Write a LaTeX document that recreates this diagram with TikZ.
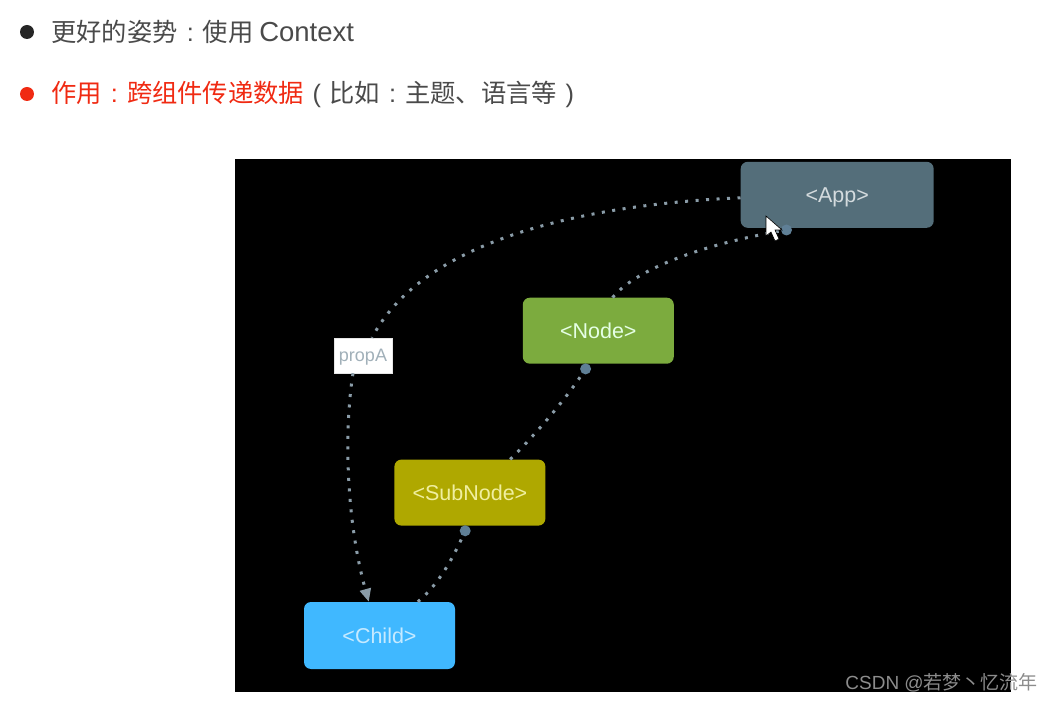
\documentclass[tikz,border=0pt]{standalone}
\usepackage{xcolor}
\usepackage{fontspec}
\setmainfont{Liberation Sans}
\newfontfamily\cjk{Noto Sans CJK SC}
\usetikzlibrary{arrows.meta, positioning, calc}
\definecolor{appgrey}{HTML}{546E7A}
\definecolor{nodegreen}{HTML}{7CAB3E}
\definecolor{subolive}{HTML}{AFA800}
\definecolor{childblue}{HTML}{40B8FF}
\definecolor{linkgrey}{HTML}{8A9CA8}
\definecolor{dotgrey}{HTML}{5F7F96}
\definecolor{inkgrey}{HTML}{4A4A4A}
\definecolor{alertred}{HTML}{F02A12}
\definecolor{subtext}{HTML}{F0EFA0}
\newcommand{\widemark}[1]{\makebox[25.3pt]{\rmfamily #1}}

\begin{document}
\begin{tikzpicture}[
        x=1pt, y=-1pt,
        box/.style={rounded corners=7pt, minimum width=151pt, minimum height=66pt,
                    inner sep=0pt, text height=16pt, text depth=0pt,
                    font=\fontsize{21.5}{26}\selectfont},
        portdot/.style={circle, fill=dotgrey, minimum size=11pt, inner sep=0pt},
        lnk/.style={linkgrey, line width=3pt, dash pattern=on 3pt off 7.5pt},
        arr/.style={lnk, -{Triangle[length=13pt, width=11pt, fill=linkgrey]}},
        line/.style={anchor=west, inner sep=0pt, text=inkgrey, font=\fontsize{25.3}{30}\selectfont},
        bullet/.style={circle, minimum size=14pt, inner sep=0pt}
      ]
        \useasboundingbox (0,0) rectangle (1053,703);
        \node[bullet, fill=black!85] (blacktip) at (27,32) {};
        \node[line] (title) at (51,32) {\cjk 更好的姿势\widemark{:}使用 {\rmfamily\fontsize{27.5}{30}\selectfont Context}};
        \node[bullet, fill=alertred] (redtip) at (27,94) {};
        \node[line] (usage) at (51,94) {\cjk\textcolor{alertred}{作用\widemark{:}跨组件传递数据}\widemark{(}比如\widemark{:}主题、语言等\widemark{)}};
        \node[fill=black, minimum width=776pt, minimum height=533pt, inner sep=0pt] (panel) at (623,425.5) {};

        \node[box, fill=childblue, text=childblue!30!white, minimum height=67pt] (child) at (379.5,635.5) {<Child>};
        \node[box, fill=subolive, text=subtext] (sub) [above right=76pt and -61pt of child] {<SubNode>};
        \node[box, fill=nodegreen, text=green!10!white] (nodebox) [above right=95.5pt and -23pt of sub] {<Node>};
        \node[box, fill=appgrey, text=appgrey!25!white, minimum width=193pt] (app) [above right=69.5pt and 66.5pt of nodebox] {<App>};
        \node[fill=white, draw=black!10, minimum width=58pt, minimum height=35pt, inner sep=0pt,
              text height=13pt, text depth=0pt, text=linkgrey!80!white, font=\fontsize{18}{22}\selectfont] (prop) at (363,355.5) {propA};

        \node[portdot] (appdot) at ($(app.south west)+(46,2)$) {};
        \node[portdot] (nodedot) at ($(nodebox.south west)+(63,5)$) {};
        \node[portdot] (subdot) at ($(sub.south west)+(71,5)$) {};

        \draw[lnk] ($(app.west)+(0,3)$) .. controls (595,204) and (425,236) .. ($(prop.north)+(9,0)$);
        \draw[arr] ($(prop.south)+(-10,0)$) .. controls (344,430) and (346,520) .. ($(child.north west)+(65,0)$);
        \draw[lnk] ($(nodebox.north west)+(90,0)$) .. controls (635,270) and (700,245) .. (appdot);
        \draw[lnk] ($(sub.north west)+(116,0)$) .. controls (535,435) and (565,400) .. (nodedot);
        \draw[lnk] ($(child.north west)+(114,0)$) .. controls (438,585) and (452,560) .. (subdot);

        \fill[white, draw=black, line width=0.6pt] (766,216) -- (766,236) -- (771,232) -- (775,241)
              -- (779,239) -- (775,230) -- (782,230) -- cycle;
        \node[anchor=east, inner sep=0pt, text=black!45, font=\fontsize{19}{22}\selectfont] (mark) at (1038,683) {CSDN @\cjk 若梦丶忆流年};
      \end{tikzpicture}
\end{document}
